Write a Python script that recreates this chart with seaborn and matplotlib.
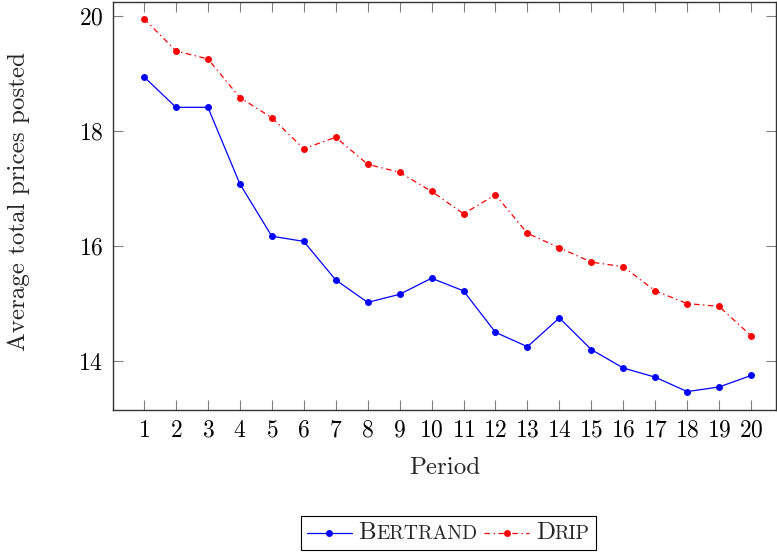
import numpy as np
import pandas as pd
import matplotlib
matplotlib.use("Agg")
import matplotlib.pyplot as plt
import seaborn as sns
from matplotlib.offsetbox import AnchoredOffsetbox, HPacker, TextArea, DrawingArea
from matplotlib.lines import Line2D

# values
period = list(range(1, 21))
bertrand = [18.94, 18.41, 18.41, 17.08, 16.17, 16.08, 15.41, 15.02, 15.16, 15.44,
            15.22, 14.50, 14.25, 14.75, 14.20, 13.88, 13.72, 13.47, 13.55, 13.75]
drip = [19.95, 19.39, 19.25, 18.58, 18.23, 17.69, 17.89, 17.42, 17.28, 16.95,
        16.56, 16.89, 16.22, 15.97, 15.72, 15.64, 15.22, 15.00, 14.95, 14.44]
y_ticks = [14, 16, 18, 20]

sns.set_style("ticks")
plt.rcParams['font.family'] = 'serif'
plt.rcParams['font.serif'] = ['cmr10']
plt.rcParams['mathtext.fontset'] = 'cm'
plt.rcParams['axes.formatter.use_mathtext'] = True
plt.rcParams['lines.scale_dashes'] = False

df = pd.DataFrame({"Period": period * 2,
                   "Price": bertrand + drip,
                   "Model": ["Bertrand"] * 20 + ["Drip"] * 20})

fig = plt.figure(figsize=(7.77, 5.55), dpi=100)
ax = fig.add_axes([113 / 777, 1 - 410 / 555, 663 / 777, 408 / 555])

dd = (4, 2.5, 1, 2.5)
sns.lineplot(data=df, x="Period", y="Price", hue="Model", style="Model",
             palette={"Bertrand": "blue", "Drip": "red"},
             dashes={"Bertrand": "", "Drip": dd},
             markers={"Bertrand": "o", "Drip": "o"},
             markersize=5, markeredgewidth=0, linewidth=0.9,
             legend=False, ax=ax)

ax.set_xlim(0.03, 20.78)
ax.set_ylim(13.15, 20.24)
ax.set_xticks(period)
ax.set_yticks(y_ticks)
ax.tick_params(direction='in', top=True, right=True, length=7, width=0.8,
               color='#808080', labelsize=17, pad=7, labelcolor='black')
for s in ax.spines.values():
    s.set_color('#333333')
    s.set_linewidth(1.0)

ax.set_xlabel("Period", fontsize=18, va='top')
ax.xaxis.set_label_coords(0.5, (410 - 457) / 408)
ax.set_ylabel("Average total prices posted", fontsize=18)
ax.yaxis.set_label_coords((30 - 113) / 663, 0.51)


def handle(color, dashes):
    da = DrawingArea(32, 10, 0, 0)
    ln = Line2D([0, 32], [5, 5], color=color, lw=0.9)
    if dashes:
        ln.set_dashes(dashes)
    da.add_artist(ln)
    da.add_artist(Line2D([16], [5], marker='o', color=color, ms=5, mew=0))
    return da


def smallcaps(first, rest):
    return HPacker(children=[TextArea(first, textprops=dict(size=18)),
                             TextArea(rest, textprops=dict(size=14.2))],
                   sep=0, pad=0, align="baseline")


box = HPacker(children=[handle('blue', None), smallcaps("B", "ERTRAND"),
                        handle('red', dd), smallcaps("D", "RIP")],
              sep=5, pad=0, align="center")
leg = AnchoredOffsetbox(loc='center', child=box, pad=0.45, borderpad=0,
                        frameon=True, bbox_to_anchor=(448.5 / 777, 1 - 533 / 555),
                        bbox_transform=fig.transFigure)
leg.patch.set_boxstyle("square", pad=0)
leg.patch.set_edgecolor('black')
leg.patch.set_linewidth(0.8)
fig.add_artist(leg)

fig.savefig("out.png", dpi=100)
